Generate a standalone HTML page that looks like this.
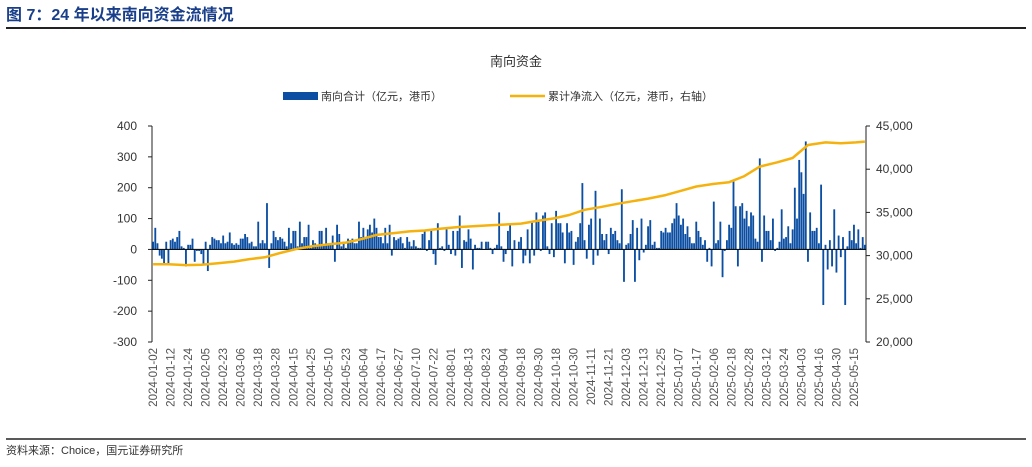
<!DOCTYPE html>
<html><head><meta charset="utf-8">
<style>
body{margin:0;background:#fff;width:1032px;height:462px;overflow:hidden;font-family:"Liberation Sans","Noto Sans CJK SC",sans-serif;}
svg text{font-family:"Liberation Sans","Noto Sans CJK SC",sans-serif;}
</style></head>
<body>
<svg id="c" width="1032" height="462">
<text x="6" y="20" font-size="16" font-weight="bold" fill="#1a3f8a">图 7：24 年以来南向资金流情况</text>
<line x1="6" y1="28" x2="1026" y2="28" stroke="#222" stroke-width="2"/>
<text x="516" y="66" font-size="13" fill="#333" text-anchor="middle">南向资金</text>
<g>
<rect x="283" y="92" width="35" height="8" fill="#0b4ea2"/>
<text x="321" y="100" font-size="11" fill="#333">南向合计（亿元，港币）</text>
<line x1="510" y1="96" x2="545" y2="96" stroke="#f5b20f" stroke-width="2.5"/>
<text x="548" y="100" font-size="11" fill="#333">累计净流入（亿元，港币，右轴）</text>
</g>
<g id="plot"></g>
<line x1="6" y1="439" x2="1026" y2="439" stroke="#222" stroke-width="1.5"/>
<text x="6" y="454" font-size="11" fill="#333">资料来源：Choice，国元证券研究所</text>
</svg>
<script>
const flows=[
25,70,20,-20,-30,-50,25,
-45,30,35,25,40,60,10,
5,-55,15,15,35,-40,-5,
-5,-15,-50,25,-70,15,40,35,
30,30,20,45,20,25,55,
20,15,20,15,35,35,50,
40,20,25,10,10,90,20,30,
20,150,-60,20,60,40,30,
40,35,25,10,70,20,60,
60,10,90,20,40,40,80,5,
30,20,10,60,60,15,70,
20,15,45,-40,80,50,10,
25,5,35,30,35,20,20,90,
40,70,35,65,80,55,100,
70,40,40,20,70,20,80,
-20,40,30,35,40,20,5,40,
25,10,30,10,5,5,50,
60,-5,30,60,-15,-50,85,
5,10,-5,65,15,-15,60,-20,
60,110,-60,30,25,65,35,
-65,15,5,5,25,0,25,
25,5,-15,5,15,120,10,-40,
-15,60,80,-55,30,0,25,
40,-45,-20,65,-45,90,-20,
120,90,-5,110,120,10,-15,85,
-25,125,85,85,55,-45,85,
55,60,-50,25,40,85,215,
30,-30,80,100,-50,190,-20,100,
50,30,50,-15,70,50,60,
30,20,195,-105,15,20,50,
95,-105,70,-35,100,-10,15,75,
95,15,25,5,5,60,55,
70,55,55,85,100,150,110,
80,100,50,75,40,20,20,90,
60,40,15,30,-40,5,-55,
155,20,30,90,-90,-5,30,
80,70,220,140,-55,140,150,100,
125,75,120,110,35,25,295,
-40,110,60,60,30,100,-5,
5,25,130,35,40,75,20,65,
200,100,290,250,180,350,-40,
120,60,60,70,20,210,-180,
15,-65,30,-55,130,-75,45,-25,
40,-180,10,60,30,80,20,
65,5,40,15];
const tickDates=["2024-01-02","2024-01-12","2024-01-24","2024-02-05","2024-02-23","2024-03-06","2024-03-18","2024-03-28","2024-04-15","2024-04-25","2024-05-10","2024-05-23","2024-06-04","2024-06-17","2024-06-27","2024-07-10","2024-07-22","2024-08-01","2024-08-13","2024-08-23","2024-09-04","2024-09-18","2024-09-30","2024-10-18","2024-10-30","2024-11-11","2024-11-21","2024-12-03","2024-12-13","2024-12-25","2025-01-07","2025-01-17","2025-02-06","2025-02-18","2025-02-28","2025-03-12","2025-03-24","2025-04-03","2025-04-16","2025-04-30","2025-05-15"];
const cumDays=[0,7,15,22,29,37,44,51,58,66,73,80,88,95,102,110,117,124,131,139,146,153,161,168,175,183,190,197,204,212,219,226,234,241,248,256,263,270,277,285,292,299,307,314,321,325];
const cumValues=[29000,29000,28900,28950,29100,29300,29600,29800,30300,30800,31100,31300,31500,31900,32400,32600,32800,32900,33100,33300,33400,33500,33600,33700,34000,34300,34700,35300,35600,36000,36300,36600,37000,37500,38000,38300,38500,39200,40300,40800,41300,42800,43100,43000,43100,43200];
const leftTicks=[400,300,200,100,0,-100,-200,-300];
const rightTicks=[45000,40000,35000,30000,25000,20000];

const NS="http://www.w3.org/2000/svg";
const g=document.getElementById('plot');
const X0=152,X1=866,Y0=126,Y1=342;
const n=flows.length;
const step=(X1-X0)/n;
const xd=d=>X0+(d+0.5)*step;
const yL=v=>Y0+(400-v)/700*(Y1-Y0);
const yR=v=>Y0+(45000-v)/25000*(Y1-Y0);
function mk(t,a){const e=document.createElementNS(NS,t);for(const k in a)e.setAttribute(k,a[k]);g.appendChild(e);return e;}
let ax=mk('line',{x1:X0,y1:Y0,x2:X0,y2:Y1,stroke:'#222','stroke-width':1});


let axr=mk('line',{x1:X1,y1:Y0,x2:X1,y2:Y1,stroke:'#222','stroke-width':1});


leftTicks.forEach(v=>{
  const y=yL(v);
  const tk=mk('line',{x1:X0-4,y1:y,x2:X0,y2:y,stroke:'#222'});
  
  
  const t=mk('text',{x:X0-15,y:y+4,'font-size':12,fill:'#333','text-anchor':'end'});
  t.textContent=v;
  
  
});
rightTicks.forEach(v=>{
  const y=yR(v);
  const tk=mk('line',{x1:X1,y1:y,x2:X1+4,y2:y,stroke:'#222'});
  
  
  const t=mk('text',{x:X1+10,y:y+4,'font-size':12,fill:'#333'});
  t.textContent=v.toLocaleString('en-US');
  
  
});
flows.forEach((v,i)=>{
  const y0=yL(0),y=yL(v);
  const r=mk('rect',{x:xd(i)-step*0.42,y:Math.min(y,y0),width:step*0.84,height:Math.abs(y-y0),fill:'#0b4ea2'});
  
  
});
const zl=mk('line',{x1:X0,y1:yL(0),x2:X1,y2:yL(0),stroke:'#111','stroke-width':1.2});


const pts=cumValues.map((v,i)=>xd(Math.min(cumDays[i],n-1)).toFixed(1)+','+yR(v).toFixed(1)).join(' ');
const pl=mk('polyline',{points:pts,fill:'none',stroke:'#f5b20f','stroke-width':2.5,'stroke-linejoin':'round'});


tickDates.forEach((d,i)=>{
  const x=xd(i*8);
  const t=mk('text',{x:0,y:0,'font-size':11.5,fill:'#555','text-anchor':'end',transform:`translate(${x+4},348) rotate(-90)`});
  t.textContent=d;
  
  
});
</script>
</body></html>
